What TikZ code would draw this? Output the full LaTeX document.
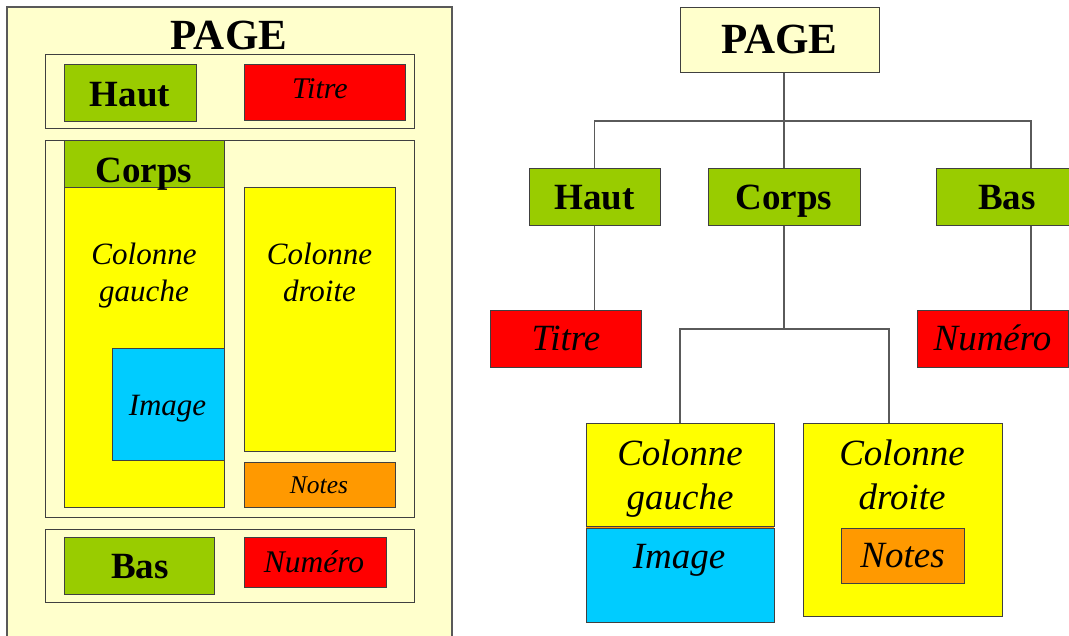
\documentclass[tikz,border=0pt]{standalone}
\usepackage{fontspec}
\setmainfont{Liberation Serif}
\definecolor{pagecol}{HTML}{FFFFCC}
\definecolor{zonecol}{HTML}{99CC00}
\definecolor{titrecol}{HTML}{FF0000}
\definecolor{colcol}{HTML}{FFFF00}
\definecolor{imgcol}{HTML}{00CCFF}
\definecolor{notecol}{HTML}{FF9900}
\definecolor{liencol}{HTML}{5A5A5A}
\tikzset{
  boite/.style={draw=black!75,line width=1pt,inner sep=0pt},
  gros/.style={font=\fontsize{43}{50}\selectfont\bfseries},
  gras/.style={font=\fontsize{37}{44}\selectfont\bfseries},
  ital/.style={font=\fontsize{#1}{44}\selectfont\itshape},
  lien/.style={draw=liencol,line width=1.5pt},
  bloc/.style={boite,minimum width=#1,text height=25pt,text depth=0pt},
}
\begin{document}
\begin{tikzpicture}[x=1pt,y=-1pt]
			\useasboundingbox (0,0) rectangle (1069,635);
			\clip (0,0) rectangle (1069,635);
			\fill[white] (0,0) rectangle (1069,635);
			% la page vue a plat
			\draw[draw=black!65,line width=1.5pt,fill=pagecol] (7,7) rectangle (452,650);
			\node[gros,anchor=base] (pageA) at (229,49) {PAGE};
			\draw[boite,fill=pagecol] (45,54) rectangle (414,128);
			\draw[boite,fill=zonecol] (64,64) rectangle (196,121);
			\draw[boite,fill=titrecol] (244,64) rectangle (405,120);
			\node[gras,anchor=base] (hautA) at (130,106) {Haut};
			\node[ital=30,anchor=base] (titreA) at (320,98) {Titre};
			\draw[boite,fill=pagecol] (45,140) rectangle (414,517);
			\draw[boite,fill=zonecol] (64,140) rectangle (224,187);
			\draw[boite,fill=colcol] (64,187) rectangle (224,507);
			\draw[boite,fill=imgcol] (112,348) rectangle (224,460);
			\draw[boite,fill=colcol] (244,187) rectangle (395,451);
			\draw[boite,fill=notecol] (244,462) rectangle (395,507);
			\node[gras,anchor=base] (corpsA) at (144,182) {Corps};
			\node[ital=31,anchor=base] (colGA) at (144,264) {Colonne};
			\node[ital=31,anchor=base] (colGAb) at (144,301) {gauche};
			\node[ital=31,anchor=base] (colDA) at (319.5,264) {Colonne};
			\node[ital=31,anchor=base] (colDAb) at (319.5,301) {droite};
			\node[ital=31,anchor=base] (imgA) at (167.5,415) {Image};
			\node[ital=25.5,anchor=base] (notesA) at (319,493) {Notes};
			\draw[boite,fill=pagecol] (45,529) rectangle (414,602);
			\draw[boite,fill=zonecol] (64,537) rectangle (214,594);
			\draw[boite,fill=titrecol] (244,537) rectangle (386,587);
			\node[gras,anchor=base] (basA) at (140,578) {Bas};
			\node[ital=31.5,anchor=base] (numA) at (314,572) {Numéro};
			% l'arbre
			\node[boite,fill=pagecol,minimum width=199,minimum height=65,gros,text height=28pt,text depth=0pt] (pageB) at (779.5,39.5) {PAGE};
			\node[bloc=131,fill=zonecol,minimum height=57,gras] (hautB) at (594.5,196.5) {Haut};
			\node[bloc=152,fill=zonecol,minimum height=57,gras] (corpsB) at (784,196.5) {Corps};
			\node[bloc=142,fill=zonecol,minimum height=57,gras] (basB) at (1007,196.5) {Bas};
			\node[bloc=151,fill=titrecol,minimum height=57,ital=37,text height=24pt] (titreB) at (566,338.5) {Titre};
			\node[bloc=151,fill=titrecol,minimum height=57,ital=37,text height=24pt] (numB) at (992.5,338.5) {Numéro};
			\fill[notecol] (586,525) rectangle (774,529);
			\node[boite,fill=colcol,minimum width=188,minimum height=103] (colGB) at (680,474.5) {};
			\node[boite,fill=imgcol,minimum width=188,minimum height=94] (imgB) at (680,575) {};
			\node[boite,fill=colcol,minimum width=199,minimum height=193] (colDB) at (902.5,519.5) {};
			\node[bloc=123,fill=notecol,minimum height=55,ital=37,text height=24pt] (notesB) at (902.5,555.5) {Notes};
			\node[ital=37,anchor=base] (colGBt) at (680,465) {Colonne};
			\node[ital=37,anchor=base] (colGBb) at (680,509) {gauche};
			\node[ital=37,anchor=base] (imgBt) at (679,568) {Image};
			\node[ital=37,anchor=base] (colDBt) at (902,465) {Colonne};
			\node[ital=37,anchor=base] (colDBb) at (902,509) {droite};
			\coordinate (rang1) at (784,121);
			\coordinate (rang2) at (784,329);
			\draw[lien] (pageB.south -| corpsB.north) -- (corpsB.north);
			\draw[lien] (hautB.north) |- (rang1) -| ([xshift=24]basB.north);
			\draw[lien] (hautB.south) -- (hautB.south |- titreB.north);
			\draw[lien] ([xshift=24]basB.south) -- ([xshift=24]basB.south |- numB.north);
			\draw[lien] (corpsB.south) -- (rang2);
			\draw[lien] (colGB.north) |- (rang2) -| ([xshift=-13.5]colDB.north);
		\end{tikzpicture}
\end{document}
